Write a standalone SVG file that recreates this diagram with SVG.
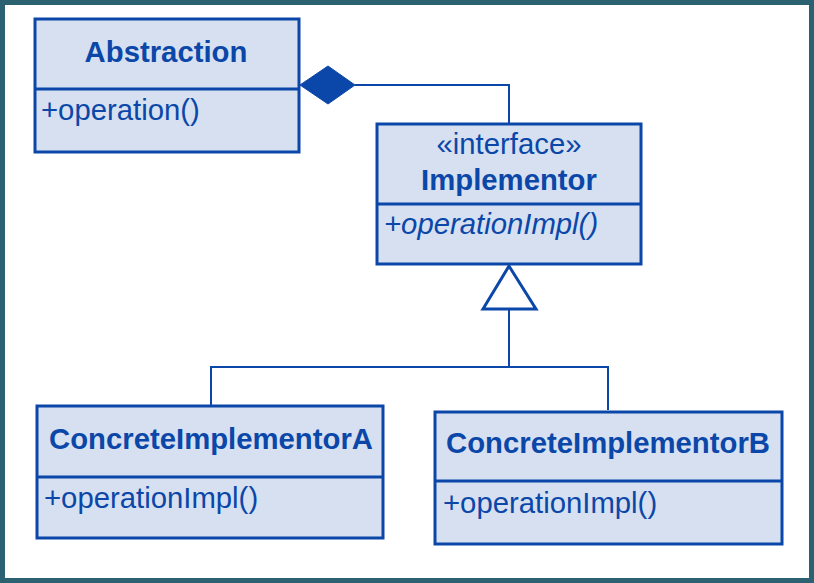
<svg xmlns="http://www.w3.org/2000/svg" width="814" height="583" viewBox="0 0 814 583">
<style>
.box{fill:#d6e0f1;stroke:#0b47a8;stroke-width:3}
.div{stroke:#0b47a8;stroke-width:3}
.t{font-family:"Liberation Sans",Arial,sans-serif;fill:#0b47a8;font-size:29.3px}
.b{font-weight:bold;text-anchor:middle}
.c{fill:none;stroke:#0b47a8;stroke-width:2}
</style>
<rect x="2.5" y="2.5" width="809" height="578" fill="#ffffff" stroke="#2b6170" stroke-width="5"/>
<g id="connectors">
<polyline class="c" points="355,85 509,85 509,124"/>
<polygon points="300,85 328,66 355,85 328,104" fill="#0b47a8" stroke="#0b47a8" stroke-width="1"/>
<polyline class="c" points="211,405 211,367 608,367 608,410"/>
<line class="c" x1="509" y1="367" x2="509" y2="309" stroke-width="3"/>
<polygon points="509,266 483,309 536,309" fill="#ffffff" stroke="#0b47a8" stroke-width="3"/>
</g>
<g id="abstraction">
<rect class="box" x="35" y="19" width="264" height="133"/>
<line class="div" x1="35" y1="89" x2="299" y2="89"/>
<text class="t b" x="166" y="62">Abstraction</text>
<text class="t" x="41" y="120">+operation()</text>
</g>
<g id="implementor">
<rect class="box" x="377" y="124" width="264" height="140"/>
<line class="div" x1="377" y1="204" x2="641" y2="204"/>
<text class="t" x="509" y="154" text-anchor="middle">«interface»</text>
<text class="t b" x="509" y="190">Implementor</text>
<text class="t" x="384" y="234" font-style="italic">+operationImpl()</text>
</g>
<g id="concreteA">
<rect class="box" x="37" y="406" width="346" height="132"/>
<line class="div" x1="37" y1="477" x2="383" y2="477"/>
<text class="t b" x="211" y="449">ConcreteImplementorA</text>
<text class="t" x="44" y="508">+operationImpl()</text>
</g>
<g id="concreteB">
<rect class="box" x="435" y="412" width="347" height="132"/>
<line class="div" x1="435" y1="481" x2="782" y2="481"/>
<text class="t b" x="608" y="453">ConcreteImplementorB</text>
<text class="t" x="443" y="513">+operationImpl()</text>
</g>
</svg>
